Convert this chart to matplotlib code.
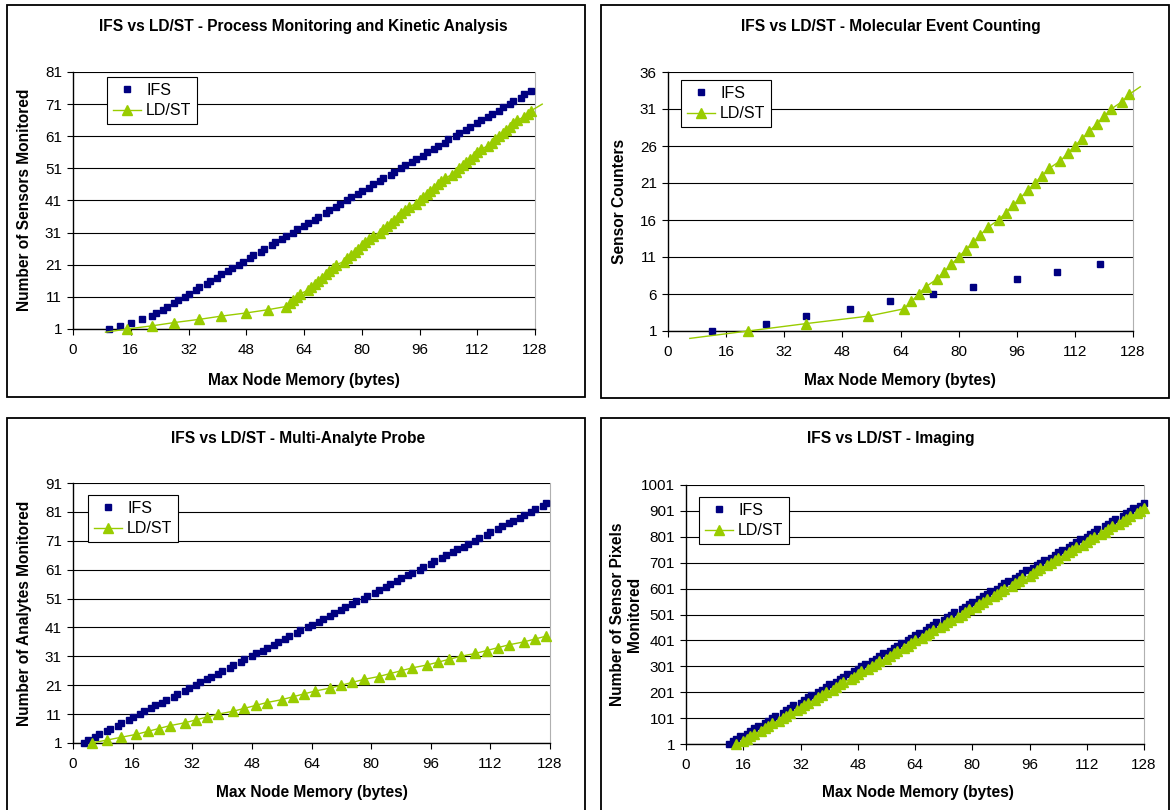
import matplotlib
matplotlib.use("Agg")
import matplotlib.pyplot as plt
from matplotlib.lines import Line2D
from matplotlib.patches import Rectangle

plt.rcParams['font.family'] = ['Liberation Sans', 'DejaVu Sans']

# ---- data (x = max node memory in bytes) ----
# Process Monitoring and Kinetic Analysis
p1_ifs_x = [10, 13, 16, 19, 22, 23, 25, 26, 28, 29, 31, 32, 34, 35, 37, 38, 40, 41, 43, 44,
            46, 47, 49, 50, 52, 53, 55, 56, 58, 59, 61, 62, 64, 65, 67, 68, 70, 71, 73, 74,
            76, 77, 79, 80, 82, 83, 85, 86, 88, 89, 91, 92, 94, 95, 97, 98, 100, 101, 103, 104,
            106, 107, 109, 110, 112, 113, 115, 116, 118, 119, 121, 122, 124, 125, 127]
p1_ifs_y = [1, 2, 3, 4, 5, 6, 7, 8, 9, 10, 11, 12, 13, 14, 15, 16, 17, 18, 19, 20,
            21, 22, 23, 24, 25, 26, 27, 28, 29, 30, 31, 32, 33, 34, 35, 36, 37, 38, 39, 40,
            41, 42, 43, 44, 45, 46, 47, 48, 49, 50, 51, 52, 53, 54, 55, 56, 57, 58, 59, 60,
            61, 62, 63, 64, 65, 66, 67, 68, 69, 70, 71, 72, 73, 74, 75]
p1_ld_x = [9, 15, 22, 28, 35, 41, 48, 54, 59, 60, 61, 62, 63, 65, 66, 67, 68, 69, 70, 71,
           72, 73, 75, 76, 77, 78, 79, 80, 81, 82, 83, 85, 86, 87, 88, 89, 90, 91, 92, 93,
           95, 96, 97, 98, 99, 100, 101, 102, 103, 105, 106, 107, 108, 109, 110, 111, 112, 113, 115, 116,
           117, 118, 119, 120, 121, 122, 123, 125, 126, 127, 130]
p1_ld_y = [0, 1, 2, 3, 4, 5, 6, 7, 8, 9, 10, 11, 12, 13, 14, 15, 16, 17, 18, 19,
           20, 21, 22, 23, 24, 25, 26, 27, 28, 29, 30, 31, 32, 33, 34, 35, 36, 37, 38, 39,
           40, 41, 42, 43, 44, 45, 46, 47, 48, 49, 50, 51, 52, 53, 54, 55, 56, 57, 58, 59,
           60, 61, 62, 63, 64, 65, 66, 67, 68, 69, 71]

# Molecular Event Counting
p2_ifs_x = [12, 27, 38, 50, 61, 73, 84, 96, 107, 119]
p2_ifs_y = [1, 2, 3, 4, 5, 6, 7, 8, 9, 10]
p2_ld_x = [6, 22, 38, 55, 65, 67, 69, 71, 74, 76, 78, 80, 82, 84, 86, 88, 91, 93, 95, 97,
           99, 101, 103, 105, 108, 110, 112, 114, 116, 118, 120, 122, 125, 127, 130]
p2_ld_y = [0, 1, 2, 3, 4, 5, 6, 7, 8, 9, 10, 11, 12, 13, 14, 15, 16, 17, 18, 19,
           20, 21, 22, 23, 24, 25, 26, 27, 28, 29, 30, 31, 32, 33, 34]

# Multi-Analyte Probe
p3_ifs_x = [3, 4, 6, 7, 9, 10, 12, 13, 15, 16, 18, 19, 21, 22, 24, 25, 27, 28, 30, 31,
            33, 34, 36, 37, 39, 40, 42, 43, 45, 46, 48, 49, 51, 52, 54, 55, 57, 58, 60, 61,
            63, 64, 66, 67, 69, 70, 72, 73, 75, 76, 78, 79, 81, 82, 84, 85, 87, 88, 90, 91,
            93, 94, 96, 97, 99, 100, 102, 103, 105, 106, 108, 109, 111, 112, 114, 115, 117, 118, 120, 121,
            123, 124, 126, 127]
p3_ifs_y = [1, 2, 3, 4, 5, 6, 7, 8, 9, 10, 11, 12, 13, 14, 15, 16, 17, 18, 19, 20,
            21, 22, 23, 24, 25, 26, 27, 28, 29, 30, 31, 32, 33, 34, 35, 36, 37, 38, 39, 40,
            41, 42, 43, 44, 45, 46, 47, 48, 49, 50, 51, 52, 53, 54, 55, 56, 57, 58, 59, 60,
            61, 62, 63, 64, 65, 66, 67, 68, 69, 70, 71, 72, 73, 74, 75, 76, 77, 78, 79, 80,
            81, 82, 83, 84]
p3_ld_x = [5, 9, 13, 17, 20, 23, 26, 30, 33, 36, 39, 43, 46, 49, 52, 56, 59, 62, 65, 69,
           72, 75, 78, 82, 85, 88, 91, 95, 98, 101, 104, 108, 111, 114, 117, 121, 124, 127]
p3_ld_y = [1, 2, 3, 4, 5, 6, 7, 8, 9, 10, 11, 12, 13, 14, 15, 16, 17, 18, 19, 20,
           21, 22, 23, 24, 25, 26, 27, 28, 29, 30, 31, 32, 33, 34, 35, 36, 37, 38]

# Imaging
p4_ifs_x = [12, 13, 14, 15, 17, 18, 19, 20, 22, 23, 24, 25, 27, 28, 29, 30, 32, 33, 34, 35,
            37, 38, 39, 40, 42, 43, 44, 45, 47, 48, 49, 50, 52, 53, 54, 55, 57, 58, 59, 60,
            62, 63, 64, 65, 67, 68, 69, 70, 72, 73, 74, 75, 77, 78, 79, 80, 82, 83, 84, 85,
            87, 88, 89, 90, 92, 93, 94, 95, 97, 98, 99, 100, 102, 103, 104, 105, 107, 108, 109, 110,
            112, 113, 114, 115, 117, 118, 119, 120, 122, 123, 124, 125, 127, 128]
p4_ifs_y = [1, 11, 21, 31, 41, 51, 61, 71, 81, 91,
            101, 111, 121, 131, 141, 151, 161, 171, 181, 191,
            201, 211, 221, 231, 241, 251, 261, 271, 281, 291,
            301, 311, 321, 331, 341, 351, 361, 371, 381, 391,
            401, 411, 421, 431, 441, 451, 461, 471, 481, 491,
            501, 511, 521, 531, 541, 551, 561, 571, 581, 591,
            601, 611, 621, 631, 641, 651, 661, 671, 681, 691,
            701, 711, 721, 731, 741, 751, 761, 771, 781, 791,
            801, 811, 821, 831, 841, 851, 861, 871, 881, 891,
            901, 911, 921, 931]
p4_ld_x = [14, 16, 17, 18, 19, 21, 22, 23, 24, 26, 27, 28, 29, 31, 32, 33, 34, 36, 37, 38,
           39, 41, 42, 43, 44, 46, 47, 48, 49, 51, 52, 53, 54, 56, 57, 58, 59, 61, 62, 63,
           64, 66, 67, 68, 69, 71, 72, 73, 74, 76, 77, 78, 79, 81, 82, 83, 84, 86, 87, 88,
           89, 91, 92, 93, 94, 96, 97, 98, 99, 101, 102, 103, 104, 106, 107, 108, 109, 111, 112, 113,
           114, 116, 117, 118, 119, 121, 122, 123, 124, 126, 127, 128]
p4_ld_y = [1, 11, 21, 31, 41, 51, 61, 71, 81, 91,
           101, 111, 121, 131, 141, 151, 161, 171, 181, 191,
           201, 211, 221, 231, 241, 251, 261, 271, 281, 291,
           301, 311, 321, 331, 341, 351, 361, 371, 381, 391,
           401, 411, 421, 431, 441, 451, 461, 471, 481, 491,
           501, 511, 521, 531, 541, 551, 561, 571, 581, 591,
           601, 611, 621, 631, 641, 651, 661, 671, 681, 691,
           701, 711, 721, 731, 741, 751, 761, 771, 781, 791,
           801, 811, 821, 831, 841, 851, 861, 871, 881, 891,
           901, 911]

xticks = [0, 16, 32, 48, 64, 80, 96, 112, 128]

W, H = 1171, 810
navy = '#000080'
green = '#99CC00'

fig = plt.figure(figsize=(W / 100, H / 100), dpi=100)


def ftext(x, y, s, **kw):
    # position in pixels from top-left
    fig.text(x / W, 1 - y / H, s, ha='center', va='center', **kw)


# chart area frames
for l, t, r, b in [(7, 5, 585, 397), (601, 5, 1169, 398), (7, 418, 585, 812), (601, 418, 1169, 812)]:
    fig.add_artist(Rectangle((l / W, 1 - b / H), (r - l) / W, (b - t) / H,
                             transform=fig.transFigure, fill=False, ec='black', lw=1.3))


def panel(box, ifs_x, ifs_y, ld_x, ld_y, ymax, ystep, leg):
    l, t, r, b = box
    ax = fig.add_axes([l / W, 1 - b / H, (r - l) / W, (b - t) / H])
    ax.set_xlim(0, 128)
    ax.set_ylim(1, ymax)
    ax.set_xticks(xticks)
    ax.set_yticks(list(range(1, ymax + 1, ystep)))
    ax.yaxis.grid(True, color='black', lw=0.8)
    ax.set_axisbelow(True)
    ax.spines['top'].set_visible(False)
    ax.spines['right'].set_color('#B0B0B0')
    ax.spines['left'].set_linewidth(1.0)
    ax.spines['bottom'].set_linewidth(1.0)
    ax.tick_params(direction='out', length=4, width=0.8, labelsize=11)
    ax.tick_params(axis='x', pad=6)
    ax.tick_params(axis='y', pad=4)

    ax.plot(ifs_x, ifs_y, ls='none', marker='s', ms=5.0, color=navy, clip_on=False, zorder=3)
    # LD/ST line runs past the axes like the original, markers only inside
    ax.plot(ld_x, ld_y, '-', color=green, lw=1.0, clip_on=False, zorder=4)
    mx = [x for x, y in zip(ld_x, ld_y) if 0 <= x <= 128 and y >= 1]
    my = [y for x, y in zip(ld_x, ld_y) if 0 <= x <= 128 and y >= 1]
    ax.plot(mx, my, ls='none', marker='^', ms=7, color=green, clip_on=False, zorder=4)

    handles = [Line2D([], [], ls='none', marker='s', ms=5.0, color=navy),
               Line2D([], [], color=green, lw=1.0, marker='^', ms=7)]
    lg = ax.legend(handles, ['IFS', 'LD/ST'], loc='upper left',
                   bbox_to_anchor=(leg[0] / W, 1 - leg[1] / H), bbox_transform=fig.transFigure,
                   borderaxespad=0, fancybox=False, edgecolor='black', framealpha=1,
                   fontsize=11.5, handlelength=1.8, handletextpad=0.3, borderpad=0.35,
                   labelspacing=0.35)
    lg.get_frame().set_linewidth(0.8)
    return ax


panel((73, 72, 535, 329), p1_ifs_x, p1_ifs_y, p1_ld_x, p1_ld_y, 81, 10, (107, 77))
panel((668, 72, 1133, 331), p2_ifs_x, p2_ifs_y, p2_ld_x, p2_ld_y, 36, 5, (681, 80))
panel((73, 483, 550, 743), p3_ifs_x, p3_ifs_y, p3_ld_x, p3_ld_y, 91, 10, (88, 495))
panel((686, 485, 1144, 744), p4_ifs_x, p4_ifs_y, p4_ld_x, p4_ld_y, 1001, 100, (699, 497))

bold = dict(fontsize=11.2, fontweight='bold')
ftext(303, 27, 'IFS vs LD/ST - Process Monitoring and Kinetic Analysis', **bold)
ftext(891, 27, 'IFS vs LD/ST - Molecular Event Counting', **bold)
ftext(298, 438, 'IFS vs LD/ST - Multi-Analyte Probe', **bold)
ftext(891, 438, 'IFS vs LD/ST - Imaging', **bold)

ftext(304, 380, 'Max Node Memory (bytes)', **bold)
ftext(900, 380, 'Max Node Memory (bytes)', **bold)
ftext(312, 792, 'Max Node Memory (bytes)', **bold)
ftext(918, 792, 'Max Node Memory (bytes)', **bold)

ftext(25, 200, 'Number of Sensors Monitored', rotation=90, **bold)
ftext(620, 201, 'Sensor Counters', rotation=90, **bold)
ftext(25, 613, 'Number of Analytes Monitored', rotation=90, **bold)
ftext(626, 614, 'Number of Sensor Pixels\nMonitored', rotation=90, linespacing=1.2, **bold)

fig.savefig('out.png', dpi=100)
